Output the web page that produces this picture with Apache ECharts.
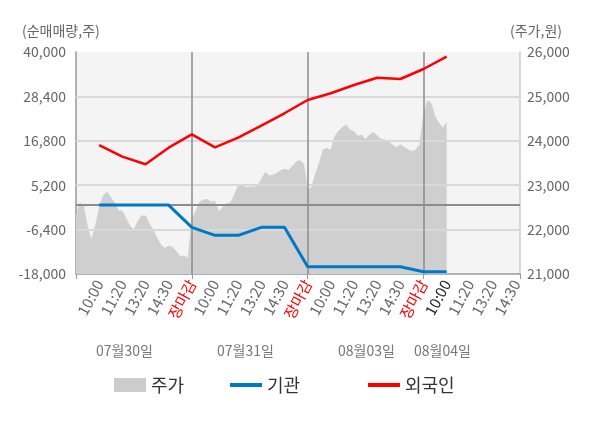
<!DOCTYPE html>
<html>
<head>
<meta charset="utf-8">
<script src="https://cdn.jsdelivr.net/npm/echarts@6/dist/echarts.min.js"></script>
<style>
  html, body { margin: 0; padding: 0; background: #fff; }
  #chart { width: 600px; height: 428px; }
</style>
</head>
<body>
<div id="chart"></div>
<script>
// x축 라벨 (하루 5칸, 마지막 날은 4칸)
const timeLabels = [
    "10:00", "11:20", "13:20", "14:30", "장마감",
    "10:00", "11:20", "13:20", "14:30", "장마감",
    "10:00", "11:20", "13:20", "14:30", "장마감",
    "10:00", "11:20", "13:20", "14:30"
];
const dateLabels = ["07월30일", "07월31일", "08월03일", "08월04일"];
const currentLabelIdx = 15; // 08월04일 10:00

// 주가 (원) - 라벨 한 칸을 6등분한 지점마다
const priceVals = [
    22310, 22600, 22530, 22060, 21770, 22080, 22490, 22760, 22850, 22730,
    22600, 22430, 22420, 22250, 22080, 21990, 22190, 22310, 22310, 22130,
    21990, 21810, 21660, 21580, 21630, 21610, 21510, 21390, 21410, 21360,
    22220, 22410, 22620, 22670, 22680, 22630, 22640, 22410, 22500, 22590,
    22600, 22780, 23000, 23020, 22950, 22960, 22960, 22980, 23140, 23290,
    23220, 23230, 23270, 23330, 23360, 23340, 23420, 23520, 23560, 23470,
    22890, 22960, 23250, 23500, 23800, 23830, 23790, 24100, 24220, 24300,
    24360, 24240, 24210, 24110, 24130, 24030, 24130, 24190, 24120, 24040,
    24020, 23980, 23910, 23850, 23910, 23860, 23800, 23760, 23800, 23910,
    24580, 24900, 24850, 24550, 24400, 24290, 24420
];
// 순매매량 (주) - 라벨 지점마다 (07/30 10:00 ~ 08/04 10:00)
const instVals = [0, 0, 0, 0, -5800, -7900, -7900, -5800, -5800, -16090, -16090, -16090, -16090, -16090, -17400, -17400];
const foreignVals = [15700, 12650, 10660, 15000, 18500, 15100, 17610, 20750, 23990, 27460, 29210, 31380, 33290, 32950, 35560, 38770];

const leftTicks = [-18000, -6400, 5200, 16800, 28400, 40000];
const gridVals = [-6400, 5200, 16800, 28400];

const SUB = 6;
const N = timeLabels.length * SUB + 2;
const cats = Array.from({length: N}, (_, i) => String(i));
const dayBreaks = [];
timeLabels.forEach((t, k) => { if (t === "장마감") dayBreaks.push((k + 1) * SUB); });

function labelIndex(i) {
    if (i % SUB !== 0 || i === 0) return -1;
    const k = i / SUB - 1;
    return k < timeLabels.length ? k : -1;
}

function spread(vals) {
    const a = new Array(N).fill(null);
    vals.forEach((v, k) => { a[(k + 1) * SUB] = v; });
    return a;
}

const fmt = (v) => Number(v).toLocaleString("en-US");
const FONT = "'Noto Sans CJK KR', 'Noto Sans', sans-serif";

const chart = echarts.init(document.getElementById("chart"));

function hLine(v, color) {
    return {yAxis: v, lineStyle: {color: color, width: 2, type: "solid"}};
}
function vLine(i) {
    return {xAxis: i, lineStyle: {color: "#8c8c8c", width: 1.5, type: "solid"}};
}

const option = {
    animation: false,
    textStyle: {fontFamily: FONT},
    grid: {
        left: 76, right: 80, top: 52, bottom: 154,
        show: true, backgroundColor: "#f4f4f4", borderWidth: 0
    },
    legend: [
        {data: ["주가"], left: 114, top: 376, icon: "rect", itemWidth: 32, itemHeight: 14, padding: 0,
            textStyle: {fontSize: 18, color: "#333", fontFamily: FONT}},
        {data: ["기관"], left: 230, top: 376, icon: "rect", itemWidth: 32, itemHeight: 4, padding: 0,
            textStyle: {fontSize: 18, color: "#333", fontFamily: FONT}},
        {data: ["외국인"], left: 368, top: 376, icon: "rect", itemWidth: 32, itemHeight: 4, padding: 0,
            textStyle: {fontSize: 18, color: "#333", fontFamily: FONT}}
    ],
    graphic: [
        {type: "text", left: 22, top: 24, style: {text: "(순매매량,주)", fill: "#666", font: "14px " + FONT}},
        {type: "text", left: 510, top: 24, style: {text: "(주가,원)", fill: "#666", font: "14px " + FONT}}
    ].concat(dateLabels.map((d, j) => ({
        type: "text",
        left: [96, 217, 338, 414][j],
        top: 344,
        style: {text: d, fill: "#777", font: "14px " + FONT}
    }))),
    xAxis: {
        type: "category",
        boundaryGap: false,
        data: cats,
        axisLine: {onZero: false, lineStyle: {color: "#999", width: 1.5}},
        axisTick: {
            interval: (i) => i === 0 || i === N - 1 || dayBreaks.indexOf(i) >= 0,
            length: 5,
            lineStyle: {color: "#999"}
        },
        axisLabel: {
            interval: (i) => labelIndex(i) >= 0,
            formatter: (v) => { const k = labelIndex(Number(v)); return k >= 0 ? timeLabels[k] : ""; },
            rotate: 62,
            fontSize: 15,
            margin: 7,
            fontFamily: FONT,
            color: (v) => {
                const k = labelIndex(Number(v));
                if (k >= 0 && timeLabels[k] === "장마감") return "#ff0000";
                if (k === currentLabelIdx) return "#222";
                return "#666";
            }
        },
        splitLine: {show: false}
    },
    yAxis: [
        {
            type: "value",
            min: -18000, max: 40000,
            axisLine: {show: true, lineStyle: {color: "#999", width: 1.5}},
            axisTick: {show: false},
            splitLine: {show: false},
            axisLabel: {customValues: leftTicks, formatter: fmt, fontSize: 14, color: "#666", margin: 10, fontFamily: FONT}
        },
        {
            type: "value",
            min: 21000, max: 26000, interval: 1000,
            axisLine: {show: true, lineStyle: {color: "#ccc", width: 1.5}},
            axisTick: {show: false},
            splitLine: {show: false},
            axisLabel: {formatter: fmt, fontSize: 14, color: "#666", margin: 7, fontFamily: FONT}
        }
    ],
    series: [
        {
            name: "주가",
            type: "line",
            yAxisIndex: 1,
            data: priceVals,
            symbol: "none",
            z: 1,
            itemStyle: {color: "#cccccc"},
            lineStyle: {width: 0.5, color: "#cccccc"},
            areaStyle: {color: "#cfcfcf", opacity: 1}
        },
        {
            name: "기관",
            type: "line",
            yAxisIndex: 0,
            data: spread(instVals),
            connectNulls: true,
            symbol: "none",
            z: 3,
            itemStyle: {color: "#0078c8"},
            lineStyle: {width: 3, color: "#0078c8"},
            markLine: {
                silent: true,
                symbol: "none",
                z: 2,
                label: {show: false},
                data: gridVals.map((v) => hLine(v, "#d9d9d9"))
                    .concat([hLine(0, "#8c8c8c")])
                    .concat(dayBreaks.map(vLine))
            }
        },
        {
            name: "외국인",
            type: "line",
            yAxisIndex: 0,
            data: spread(foreignVals),
            connectNulls: true,
            symbol: "none",
            z: 3,
            itemStyle: {color: "#ff0000"},
            lineStyle: {width: 2.5, color: "#ff0000"}
        }
    ]
};

chart.setOption(option);
</script>
</body>
</html>
